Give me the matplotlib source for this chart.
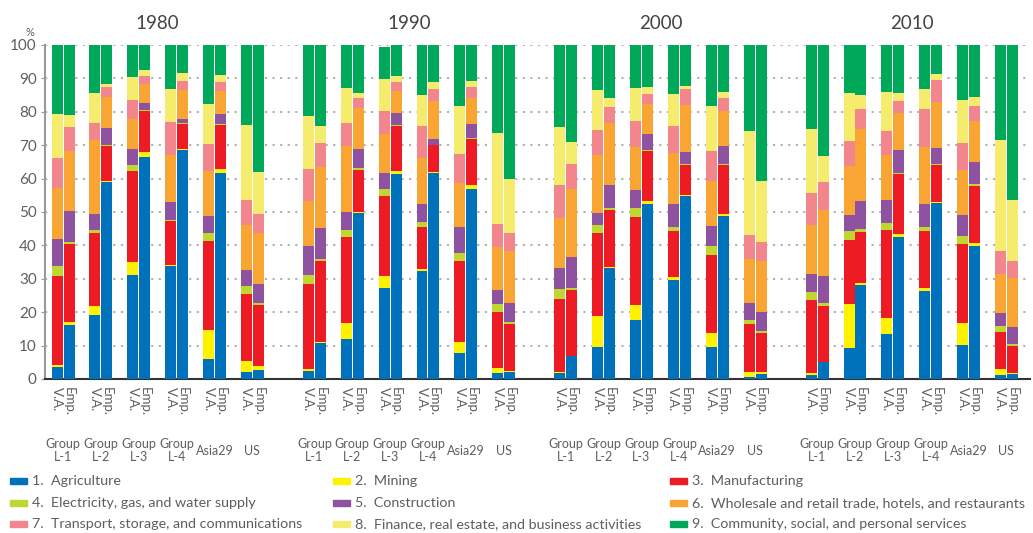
import numpy as np
import matplotlib.pyplot as plt
from matplotlib.patches import Rectangle
from matplotlib import rcParams

rcParams["font.family"] = ["Lato", "DejaVu Sans"]
GREY = "#5e5e5e"

decades = ["1980", "1990", "2000", "2010"]
groups = ["Group\nL-1", "Group\nL-2", "Group\nL-3", "Group\nL-4", "Asia29", "US"]
measures = ["V.A.", "Emp."]
sectors = ["1.  Agriculture", "2.  Mining", "3.  Manufacturing",
           "4.  Electricity, gas, and water supply", "5.  Construction",
           "6.  Wholesale and retail trade, hotels, and restaurants",
           "7.  Transport, storage, and communications",
           "8.  Finance, real estate, and business activities",
           "9.  Community, social, and personal services"]
colors = ["#0072bc", "#fff200", "#ed1c24", "#bfd730", "#8e52a1",
          "#f9a533", "#f3868d", "#f5ec6e", "#00a859"]

# cumulative share (%) at the top of sectors 1..9, one row per group
va_1980 = [[3.5, 4.3, 30.9, 33.9, 42.0, 57.2, 66.2, 79.4, 100],
           [19.2, 21.9, 43.8, 44.7, 49.5, 71.6, 76.7, 85.6, 100],
           [31.2, 35.1, 62.3, 64.1, 68.9, 77.9, 83.5, 90.4, 100],
           [33.7, 34.0, 47.2, 47.5, 53.0, 66.9, 77.0, 86.8, 100],
           [6.1, 14.8, 41.2, 43.6, 48.7, 62.4, 70.2, 82.4, 100],
           [2.2, 5.5, 25.3, 27.7, 32.5, 46.0, 53.7, 75.9, 100]]
emp_1980 = [[16.3, 17.0, 40.5, 41.1, 50.3, 68.3, 75.5, 79.1, 100],
            [59.0, 59.3, 69.8, 70.1, 75.2, 84.4, 87.4, 88.3, 100],
            [66.5, 68.0, 80.3, 80.6, 82.7, 88.3, 90.7, 92.5, 100],
            [68.6, 68.9, 76.2, 76.5, 77.7, 86.6, 89.2, 91.7, 100],
            [61.8, 63.0, 75.9, 76.2, 79.2, 86.3, 89.0, 91.1, 100],
            [2.6, 3.8, 22.0, 22.6, 28.3, 43.6, 49.3, 62.1, 100]]
va_1990 = [[2.3, 2.9, 28.3, 31.0, 39.7, 53.4, 63.0, 78.6, 100],
           [11.9, 16.9, 42.4, 44.5, 49.9, 69.6, 76.5, 87.2, 100],
           [27.1, 30.7, 54.9, 57.0, 61.8, 73.2, 80.1, 89.9, 99.5],
           [32.2, 32.8, 45.4, 46.9, 52.5, 66.3, 75.6, 85.1, 100],
           [7.7, 11.0, 35.2, 37.6, 45.4, 58.8, 67.2, 81.6, 100],
           [1.7, 3.2, 19.9, 22.3, 26.5, 39.4, 46.3, 73.5, 100]]
emp_1990 = [[10.8, 11.0, 35.2, 35.8, 45.1, 63.6, 70.5, 75.6, 100],
            [49.6, 49.9, 62.7, 63.3, 68.7, 81.0, 84.2, 85.7, 100],
            [61.5, 62.4, 75.6, 75.9, 79.5, 86.3, 89.0, 90.8, 100],
            [61.8, 62.1, 69.9, 70.1, 71.7, 83.1, 86.9, 89.0, 100],
            [57.0, 58.2, 71.7, 72.0, 76.2, 84.2, 87.5, 89.3, 100],
            [2.0, 2.3, 16.6, 17.2, 22.6, 38.2, 43.6, 60.0, 100]]
va_2000 = [[1.9, 2.2, 23.8, 26.8, 33.1, 48.1, 58.0, 75.3, 100],
           [9.5, 18.7, 43.6, 46.0, 49.6, 66.9, 74.4, 86.6, 100],
           [17.8, 22.0, 48.4, 51.3, 56.7, 69.3, 77.1, 87.2, 100],
           [29.5, 30.4, 44.2, 45.4, 52.5, 67.5, 75.6, 85.4, 100],
           [9.5, 13.7, 37.0, 39.7, 45.7, 59.4, 68.1, 81.6, 100],
           [0.7, 2.0, 16.4, 17.8, 22.6, 35.8, 43.0, 74.1, 100]]
emp_2000 = [[6.8, 7.0, 26.5, 27.1, 36.4, 57.0, 64.5, 70.8, 100],
            [33.1, 33.4, 50.7, 51.3, 58.2, 76.5, 81.3, 84.2, 100],
            [52.5, 53.4, 68.1, 68.4, 73.2, 82.2, 85.4, 87.5, 100],
            [54.9, 55.2, 64.2, 64.5, 67.8, 81.9, 86.9, 87.8, 100],
            [48.7, 49.3, 64.2, 64.5, 69.6, 80.1, 84.0, 86.0, 100],
            [1.4, 2.0, 13.7, 14.3, 19.9, 35.2, 40.9, 59.4, 100]]
va_2010 = [[1.3, 1.7, 23.5, 25.9, 31.3, 46.0, 55.6, 74.7, 100],
           [9.2, 22.3, 41.5, 44.2, 49.0, 63.9, 71.1, 85.7, 100],
           [13.4, 18.2, 44.5, 46.6, 53.7, 66.9, 74.1, 86.0, 100],
           [26.2, 27.1, 44.2, 45.4, 52.3, 69.3, 80.7, 86.9, 100],
           [10.1, 16.7, 40.3, 42.7, 49.0, 62.7, 70.5, 83.6, 100],
           [1.1, 2.9, 14.0, 15.8, 19.7, 31.3, 38.2, 71.4, 100]]
emp_2010 = [[5.0, 5.0, 21.7, 22.6, 30.7, 50.7, 59.1, 66.6, 100],
            [28.0, 28.6, 43.9, 44.8, 53.4, 74.7, 80.7, 84.9, 100],
            [42.4, 43.3, 61.5, 61.8, 68.4, 79.5, 83.1, 85.7, 100],
            [52.8, 53.1, 64.2, 64.5, 69.0, 82.8, 89.4, 91.2, 100],
            [39.7, 40.6, 57.9, 58.5, 65.1, 77.3, 81.6, 84.5, 100],
            [1.4, 1.7, 9.8, 10.4, 15.5, 30.1, 35.2, 53.7, 100]]

va_all = [va_1980, va_1990, va_2000, va_2010]
emp_all = [emp_1980, emp_1990, emp_2000, emp_2010]

fig = plt.figure(figsize=(10.33, 5.33), dpi=100)
ax = fig.add_axes([0.0436, 0.289, 0.9534, 0.6267])

STEP = 6.64
W = 0.29
OFF = 0.158
tick_pos, tick_lab = [], []
for d in range(len(decades)):
    for m, data in enumerate([va_all[d], emp_all[d]]):
        tops = np.array(data)
        shares = np.diff(np.hstack([np.zeros((len(groups), 1)), tops]), axis=1)
        x = d * STEP + np.arange(len(groups)) + (OFF if m else -OFF)
        bottom = np.zeros(len(groups))
        for s in range(len(sectors)):
            ax.bar(x, shares[:, s], W, bottom=bottom, color=colors[s], zorder=3)
            bottom += shares[:, s]
        tick_pos += list(x)
        tick_lab += [measures[m]] * len(groups)
    for g, name in enumerate(groups):
        ax.text(d * STEP + g, -0.215, name, transform=ax.get_xaxis_transform(),
                ha="center", va="center", fontsize=9, color=GREY, linespacing=1.1)
    ax.text(d * STEP + 2.5, 1.065, decades[d], transform=ax.get_xaxis_transform(),
            ha="center", va="center", fontsize=13.5, color="#444444")

ax.set_xlim(-0.476, 3 * STEP + 5.62)
ax.set_ylim(0, 100)
ax.set_yticks(range(0, 101, 10))
ax.tick_params(axis="y", labelsize=11, labelcolor=GREY, color="#999999", length=3, pad=3)
ax.set_xticks(tick_pos)
ax.set_xticklabels(tick_lab, rotation=-90, fontsize=9.5, color=GREY, va="top", ha="center")
ax.tick_params(axis="x", length=0, pad=6)
ax.yaxis.grid(True, color="#aaaaaa", ls=(0, (1.2, 3)), lw=1.3, zorder=0)
ax.set_axisbelow(True)
for side in ["top", "right"]:
    ax.spines[side].set_visible(False)
ax.spines["left"].set_color("#999999")
ax.spines["left"].set_linewidth(1.5)
ax.spines["bottom"].set_color("#333333")
ax.spines["bottom"].set_linewidth(1.5)
fig.text(30 / 1033, 1 - 33 / 533, "%", fontsize=8, color=GREY, ha="center", va="center")

# legend, filled row by row
col_x = [10, 333, 670]
row_y = [481, 503, 524]
for i, name in enumerate(sectors):
    px, py = col_x[i % 3], row_y[i // 3]
    fig.patches.append(Rectangle((px / 1033, 1 - (py + 3) / 533), 17 / 1033, 6 / 533,
                                 transform=fig.transFigure, color=colors[i]))
    fig.text((px + 22) / 1033, 1 - py / 533, name, fontsize=10.3, color=GREY,
             ha="left", va="center")

fig.savefig("out.png", dpi=100, facecolor="white")
